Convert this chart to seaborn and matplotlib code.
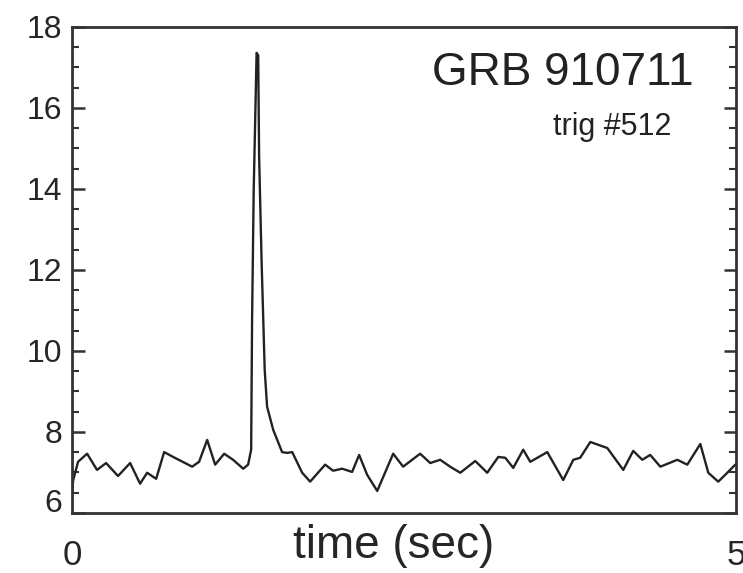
import numpy as np
import pandas as pd
import matplotlib
matplotlib.use('Agg')
import matplotlib.pyplot as plt
import matplotlib.transforms as mtransforms
from matplotlib.ticker import MultipleLocator
import seaborn as sns

sns.set_style('white')
plt.rcParams['font.family'] = ['Liberation Sans', 'DejaVu Sans']

# light curve (time in sec, counts in arbitrary units)
time = [0.000, 0.008, 0.045, 0.113, 0.188, 0.256, 0.346, 0.437, 0.512, 0.565,
        0.633, 0.693, 0.761, 0.904, 0.956, 1.017, 1.077, 1.145, 1.212, 1.288,
        1.325, 1.348, 1.355, 1.367, 1.389, 1.401, 1.408, 1.427, 1.450, 1.468,
        1.514, 1.581, 1.619, 1.657, 1.732, 1.792, 1.905, 1.965, 2.033, 2.108,
        2.161, 2.221, 2.297, 2.417, 2.492, 2.620, 2.696, 2.771, 2.846, 2.922,
        3.035, 3.125, 3.208, 3.261, 3.321, 3.396, 3.449, 3.577, 3.697, 3.773,
        3.825, 3.901, 4.029, 4.149, 4.224, 4.292, 4.352, 4.428, 4.556, 4.631,
        4.729, 4.789, 4.864, 4.932, 4.992]
rate = [6.50, 6.80, 7.26, 7.46, 7.06, 7.23, 6.91, 7.23, 6.72, 6.99,
        6.84, 7.50, 7.38, 7.14, 7.26, 7.80, 7.19, 7.46, 7.31, 7.09,
        7.19, 7.56, 10.77, 13.93, 17.36, 17.30, 14.79, 12.17, 9.53, 8.62,
        8.05, 7.50, 7.48, 7.50, 6.99, 6.77, 7.19, 7.04, 7.09, 7.01,
        7.43, 6.94, 6.54, 7.46, 7.14, 7.46, 7.23, 7.31, 7.14, 6.99,
        7.28, 6.99, 7.38, 7.36, 7.11, 7.56, 7.26, 7.50, 6.81, 7.31,
        7.36, 7.75, 7.60, 7.06, 7.53, 7.31, 7.43, 7.14, 7.31, 7.19,
        7.70, 6.99, 6.77, 6.99, 7.19]
xticks = [0, 5]
yticks = [6, 8, 10, 12, 14, 16, 18]

df = pd.DataFrame({'time': time, 'rate': rate})

fig = plt.figure(figsize=(7.43, 5.73), dpi=100)
ax = fig.add_axes([0.097, 0.105, 0.894, 0.848])
sns.lineplot(data=df, x='time', y='rate', ax=ax, color='#222222', lw=1.7,
             estimator=None)

ax.set_xlim(0, 5)
ax.set_ylim(6, 18)
ax.set_xticks(xticks)
ax.set_xticklabels([str(t) for t in xticks], fontsize=25)
ax.tick_params(axis='x', length=0, pad=19)
ax.set_yticks(yticks)
ax.set_yticklabels([str(t) for t in yticks], fontsize=23)
ax.yaxis.set_minor_locator(MultipleLocator(0.5))
ax.tick_params(axis='y', which='major', direction='in', length=9, width=1.8,
               left=True, right=True, pad=7, color='#333333')
ax.tick_params(axis='y', which='minor', direction='in', length=5, width=1.5,
               left=True, right=True, color='#333333')

# lift the lowest label off the frame
lab = ax.get_yticklabels()[0]
lab.set_transform(lab.get_transform() +
                  mtransforms.ScaledTranslation(0, 12 / 100, fig.dpi_scale_trans))

ax.set_xlabel('time (sec)', fontsize=33)
ax.xaxis.set_label_coords(0.484, -0.022)
ax.set_ylabel('')
for s in ax.spines.values():
    s.set_linewidth(2)
    s.set_color('#333333')

ax.text(0.935, 0.905, 'GRB 910711', transform=ax.transAxes, ha='right',
        va='center', fontsize=33, color='#222222')
ax.text(0.902, 0.795, 'trig #512', transform=ax.transAxes, ha='right',
        va='center', fontsize=22, color='#222222')

fig.savefig('out.png', dpi=100)
